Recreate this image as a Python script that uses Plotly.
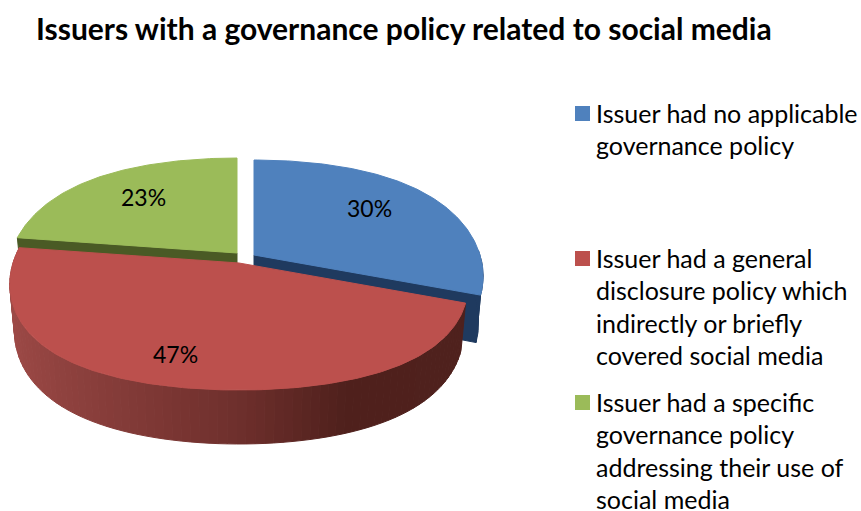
import math
import plotly.graph_objects as go

# Chart content
title_text = "Issuers with a governance policy related to social media"
shares = [30, 47, 23]
legend_labels = [
    "Issuer had no applicable<br>governance policy",
    "Issuer had a general<br>disclosure policy which<br>indirectly or briefly<br>covered social media",
    "Issuer had a specific<br>governance policy<br>addressing their use of<br>social media",
]
top_colors = ["#4f81bd", "#bc504d", "#9bbb59"]
wall_colors = ["#1f3a5f", "#4f201c", "#4a5a25"]

# Pie projection, in pixels of the canvas
CX, CY = 238, 263
RX, RY = 226, 125
PERSP_X, PERSP_Y = 0.166, 0.15
DEPTH = 45
BOTTOM_SHRINK = 0.98
slice_offsets = [(16, -8), (1, 0), (-1, -10)]
label_pos = [(369, 208), (175, 354), (143, 197)]
FONT = "Lato"


def project(theta, radius=1.0, offset=(0, 0), lower=False):
    """Map a disc angle (clockwise from 12 o'clock) onto the tilted pie."""
    t = math.radians(theta)
    u, v = radius * math.sin(t), radius * math.cos(t)
    wx = 1 + PERSP_X * v
    wy = wx + PERSP_Y * v * v
    x = CX + offset[0] + RX * u / wx * (BOTTOM_SHRINK if lower else 1)
    y = CY + offset[1] - RY * v / wy + (DEPTH / wx if lower else 0)
    return x, y


def sweep(start, end, step=1.0):
    n = max(2, int(abs(end - start) / step) + 1)
    return [start + (end - start) * i / (n - 1) for i in range(n)]


def polygon(points, color, width=1):
    xs = [p[0] for p in points] + [points[0][0]]
    ys = [p[1] for p in points] + [points[0][1]]
    return go.Scatter(
        x=xs, y=ys, mode="lines", fill="toself", fillcolor=color,
        line=dict(color=color, width=width), hoverinfo="skip", showlegend=False,
    )


def mix(stops, pos):
    for (p0, c0), (p1, c1) in zip(stops, stops[1:]):
        if pos <= p1:
            f = (pos - p0) / (p1 - p0)
            rgb = [round(a + (b - a) * f) for a, b in zip(c0, c1)]
            return "rgb({},{},{})".format(*rgb)
    return "rgb({},{},{})".format(*stops[-1][1])


# Red rim shading runs from left to right across the front
rim_stops = [(-1.0, (158, 74, 71)), (0.0, (110, 47, 44)), (0.4, (79, 32, 28)), (1.0, (79, 33, 29))]

# Slice angles from the shares
total = sum(shares)
angles = []
start = 0.0
for share in shares:
    end = start + 360.0 * share / total
    angles.append((start, end))
    start = end

fig = go.Figure()

# Back walls first so that the red slice can cover them
blue_start, blue_end = angles[0]
green_start, green_end = angles[2]
off_b, off_r, off_g = slice_offsets

fig.add_trace(polygon([
    project(green_start, 1, off_g), project(green_start, 0, off_g),
    project(green_start, 0, off_g, True), project(green_start, 1, off_g, True),
], wall_colors[2]))
fig.add_trace(polygon([
    project(blue_end, 0, off_b), project(blue_end, 1, off_b),
    project(blue_end, 1, off_b, True), project(blue_end, 0, off_b, True),
], wall_colors[0]))

# Outer blue rim, visible only towards the right-hand side
rim = [project(a, 1, off_b) for a in sweep(88, blue_end)]
rim += [project(a, 1, off_b, True) for a in sweep(blue_end, 88)]
fig.add_trace(polygon(rim, wall_colors[0]))

# Top faces of blue and green
for idx, off in ((0, off_b), (2, off_g)):
    a0, a1 = angles[idx]
    pts = [project(0, 0, off)] + [project(a, 1, off) for a in sweep(a0, a1)]
    fig.add_trace(polygon(pts, top_colors[idx]))

# Red rim as narrow shaded bands
red_start, red_end = angles[1]
band_edges = sweep(red_start, min(red_end, 280), 2.0)
for a0, a1 in zip(band_edges, band_edges[1:]):
    u = math.sin(math.radians((a0 + a1) / 2))
    color = mix(rim_stops, u)
    fig.add_trace(polygon([
        project(a0, 1, off_r), project(a1, 1, off_r),
        project(a1, 1, off_r, True), project(a0, 1, off_r, True),
    ], color))

# Red top face over everything behind it
pts = [project(0, 0, off_r)] + [project(a, 1, off_r) for a in sweep(red_start, red_end)]
fig.add_trace(polygon(pts, top_colors[1]))

annotations = [dict(
    x=34, y=28, xref="x", yref="y", xanchor="left", yanchor="middle", showarrow=False,
    text=f"<b>{title_text}</b>", font=dict(family=FONT, size=30, color="#000000"),
)]
for share, (lx, ly) in zip(shares, label_pos):
    annotations.append(dict(
        x=lx, y=ly, xref="x", yref="y", showarrow=False, text=f"{share}%",
        font=dict(family=FONT, size=23, color="#000000"),
    ))

# Legend entries: a square key and a label split over its own lines,
# placed line by line so the last one stays inside the canvas
legend_tops = [97, 242, 386]
LINE_STEP = 32.5
shapes = []
for label, color, top in zip(legend_labels, top_colors, legend_tops):
    shapes.append(dict(
        type="rect", xref="x", yref="y", x0=575, x1=590, y0=top + 9, y1=top + 24,
        fillcolor=color, line=dict(width=0),
    ))
    for n, line in enumerate(label.split("<br>")):
        annotations.append(dict(
            x=594, y=top + 15.5 + n * LINE_STEP, xref="x", yref="y",
            xanchor="left", yanchor="middle", align="left", showarrow=False,
            text=line, font=dict(family=FONT, size=25, color="#000000"),
        ))

fig.update_layout(
    width=861, height=511, margin=dict(l=0, r=0, t=0, b=0),
    paper_bgcolor="#ffffff", plot_bgcolor="#ffffff", showlegend=False,
    xaxis=dict(range=[0, 861], visible=False, fixedrange=True),
    yaxis=dict(range=[511, 0], visible=False, fixedrange=True),
    annotations=annotations, shapes=shapes,
)

fig.write_html("out.html", config={"displayModeBar": False})
